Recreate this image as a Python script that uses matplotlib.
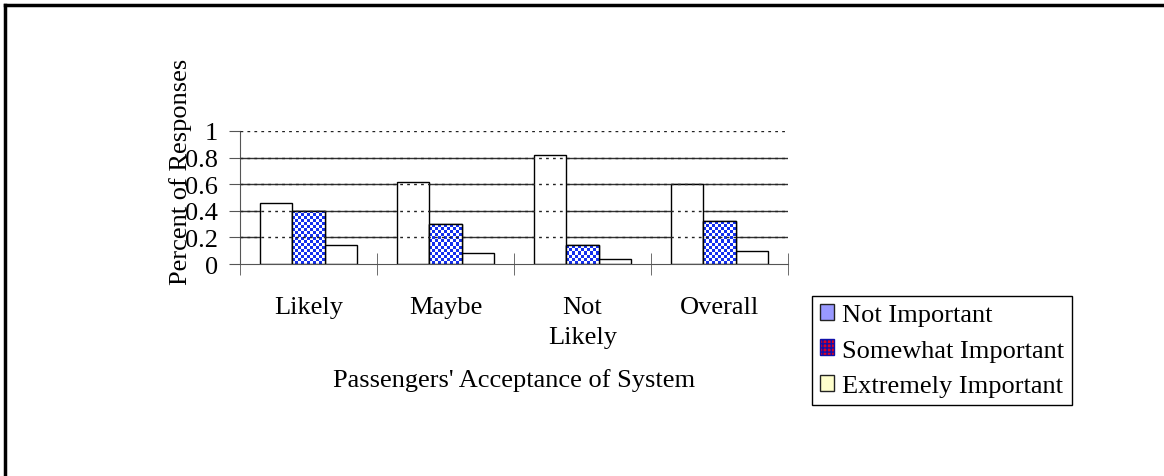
#!/usr/bin/env python

import numpy as np
import matplotlib
matplotlib.use('Agg')
import matplotlib.pyplot as plt
from matplotlib.colors import ListedColormap
from matplotlib.patches import Patch
from matplotlib.lines import Line2D

'''Survey data'''
categories = ['Likely', 'Maybe', 'Not\nLikely', 'Overall']
series_names = ['Not Important', 'Somewhat Important', 'Extremely Important']
not_important = [0.46, 0.62, 0.82, 0.60]
somewhat_important = [0.40, 0.30, 0.14, 0.32]
extremely_important = [0.14, 0.08, 0.04, 0.10]
y_ticks = [0, 0.2, 0.4, 0.6, 0.8, 1]

plt.rcParams['font.family'] = ['Liberation Serif', 'DejaVu Serif']
FS = 19

W, H = 1164, 477
fig = plt.figure(figsize=(W / 100, H / 100), dpi=100)
ax = fig.add_axes([240 / W, 1 - 265 / H, 548 / W, 133 / H])

x = np.arange(len(categories))
width = 0.234

# solid grid behind the bars, dotted copy in front
for v in y_ticks[1:-1]:
	ax.axhline(v, color='#333333', lw=1, zorder=0)
for v in y_ticks[1:]:
	ax.axhline(v, color='#222222', lw=1, ls=(0, (2, 3)), zorder=3)

bars_a = ax.bar(x - width, not_important, width, color='white', edgecolor='black', lw=1, zorder=2)
bars_b = ax.bar(x, somewhat_important, width, color='white', edgecolor='black', lw=1, zorder=2)
bars_c = ax.bar(x + width, extremely_important, width, color='white', edgecolor='black', lw=1, zorder=2)

ax.set_xlim(-0.5, len(categories) - 0.5)
ax.set_ylim(0, 1)

'''checkerboard fill for the middle series'''
checker_cmap = ListedColormap(['white', '#1430ee'])
px_per_x = 548 / len(categories)
px_per_y = 133
for bar in bars_b:
	bx, bw, bh = bar.get_x(), bar.get_width(), bar.get_height()
	nx = max(1, int(round(bw * px_per_x / 3)))
	ny = max(1, int(round(bh * px_per_y / 3)))
	grid = (np.add.outer(np.arange(ny), np.arange(nx)) % 2)
	im = ax.imshow(grid, cmap=checker_cmap, extent=(bx, bx + bw, 0, bh),
		aspect='auto', interpolation='nearest', origin='lower', zorder=2.5)
	im.set_clip_path(bar)
	ax.bar(bx + bw / 2, bh, bw, fill=False, edgecolor='black', lw=1, zorder=2.6)

for s in ['top', 'right']:
	ax.spines[s].set_visible(False)
for s in ['left', 'bottom']:
	ax.spines[s].set_color('#555555')

ax.set_yticks(y_ticks)
ax.set_yticklabels(['0', '0.2', '0.4', '0.6', '0.8', '1'], fontsize=FS)
ax.tick_params(axis='y', length=8, color='#555555', pad=8)

ax.set_xticks(x)
ax.set_xticklabels(categories, fontsize=FS, va='top', linespacing=1.45)
ax.tick_params(axis='x', which='major', length=0, pad=23)
ax.set_xticks(np.arange(len(categories) + 1) - 0.5, minor=True)
ax.tick_params(axis='x', which='minor', direction='inout', length=16, color='#555555')

ax.set_xlabel("Passengers' Acceptance of System", fontsize=FS, va='center')
ax.xaxis.set_label_coords(0.5, -(381 - 265) / 133)
fig.text(181 / W, 1 - 172 / H, 'Percent of Responses', rotation=90,
	fontsize=FS, ha='center', va='center')

handles = [
	Patch(facecolor='#9999ff', edgecolor='#222222', lw=1),
	Patch(facecolor='#dd0022', edgecolor='#1010aa', hatch='++++', lw=1),
	Patch(facecolor='#ffffcc', edgecolor='#222222', lw=1),
]
leg = fig.legend(handles, series_names, loc='upper left',
	bbox_to_anchor=(812 / W, 1 - 297 / H), fontsize=FS, frameon=True,
	fancybox=False, edgecolor='black', framealpha=1, borderpad=0.3,
	handlelength=0.55, handleheight=0.55, handletextpad=0.3, labelspacing=0.5,
	borderaxespad=0)
leg.get_frame().set_linewidth(1)

# outer frame, only top and left edges fall inside the canvas
fig.add_artist(Line2D([5 / W, 5 / W], [0, 1 - 6 / H], color='black', lw=2.5, transform=fig.transFigure))
fig.add_artist(Line2D([5 / W, 1], [1 - 6 / H, 1 - 6 / H], color='black', lw=2.5, transform=fig.transFigure))

fig.savefig('out.png', dpi=100)
